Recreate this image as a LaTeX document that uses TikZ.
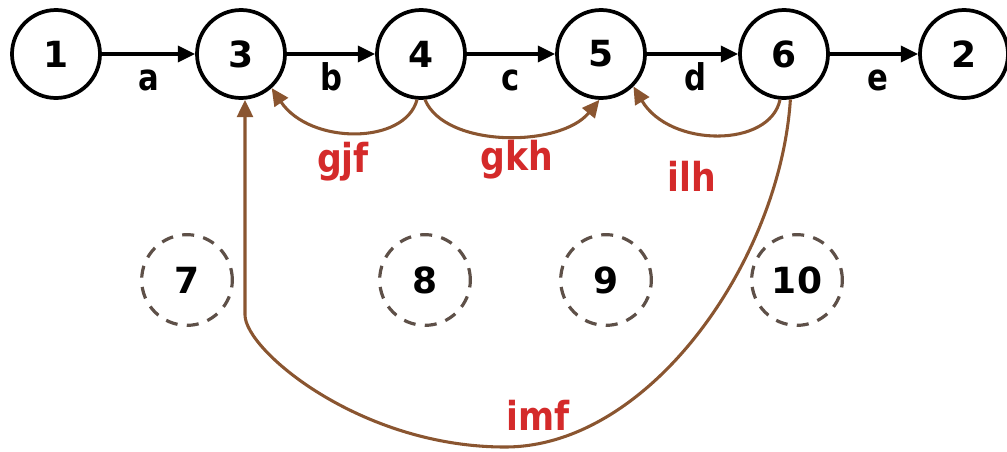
\documentclass[tikz,border=0pt]{standalone}
\usepackage{fontspec}
\usepackage{graphicx}
\setmainfont{DejaVu Sans}
\usetikzlibrary{arrows.meta}
\definecolor{brn}{HTML}{8A5530}
\definecolor{lblred}{HTML}{D42A2A}
\definecolor{dashc}{HTML}{5E5048}
\newcommand{\tall}[2]{\scalebox{1}[#1]{#2}}
\begin{document}
\begin{tikzpicture}[x=0.75pt,y=-0.75pt,
  state/.style={circle,draw=black,line width=2.8pt,minimum size=66pt,inner sep=0pt,font=\fontsize{27}{27}\selectfont\bfseries},
  ghost/.style={circle,draw=dashc,line width=2.4pt,dash pattern=on 9pt off 7pt,minimum size=68pt,inner sep=0pt,font=\fontsize{27}{27}\selectfont\bfseries},
  flow/.style={draw=black,line width=2.6pt,-{Triangle[length=13pt,width=12pt]}},
  back/.style={draw=brn,line width=2.3pt,-{Triangle[length=13pt,width=12pt]}},
  elab/.style={midway,anchor=base,yshift=-27pt,font=\fontsize{23}{23}\selectfont\bfseries},
  rlab/.style={text=lblred,font=\fontsize{26}{26}\selectfont\bfseries}]
\useasboundingbox (0,0) rectangle (1007,451);
\node[state] (n1) at (56,54) {1};
\node[state] (n3) at (241,54) {3};
\node[state] (n4) at (421,54) {4};
\node[state] (n5) at (601,54) {5};
\node[state] (n6) at (784,54) {6};
\node[state] (n2) at (964,54) {2};
\node[ghost] (n7) at (187,280) {7};
\node[ghost] (n8) at (425,280) {8};
\node[ghost] (n9) at (606,280) {9};
\node[ghost] (n10) at (797,280) {10};
\draw[flow] (n1) -- node[elab] (la) {\tall{1.2}{a}} (n3);
\draw[flow] (n3) -- node[elab] (lb) {\tall{1.2}{b}} (n4);
\draw[flow] (n4) -- node[elab] (lc) {\tall{1.2}{c}} (n5);
\draw[flow] (n5) -- node[elab,xshift=2pt] (ld) {\tall{1.2}{d}} (n6);
\draw[flow] (n6) -- node[elab,xshift=3pt] (le) {\tall{1.2}{e}} (n2);
\draw[back] (n4.-95) .. controls (405,145) and (310,145) .. (n3.-48);
\draw[back] (n4.-85) .. controls (445,148) and (560,148) .. (n5.-92);
\draw[back] (n6.-95) .. controls (770,148) and (670,148) .. (n5.-45);
\coordinate (bot) at (505,447);
\coordinate (bend) at (245,315);
\draw[back] (n6.-82) .. controls (780,260) and (650,447) .. (bot)
  .. controls (360,447) and (245,350) .. (bend) -- (n3.south -| bend);
\node[rlab] (tgjf) at (343,162) {\tall{1.15}{gjf}};
\node[rlab] (tgkh) at (517,160) {\tall{1.15}{gkh}};
\node[rlab] (tilh) at (692,176) {\tall{1.15}{ilh}};
\node[rlab] (timf) at (538,415) {\tall{1.15}{imf}};
\end{tikzpicture}
\end{document}
